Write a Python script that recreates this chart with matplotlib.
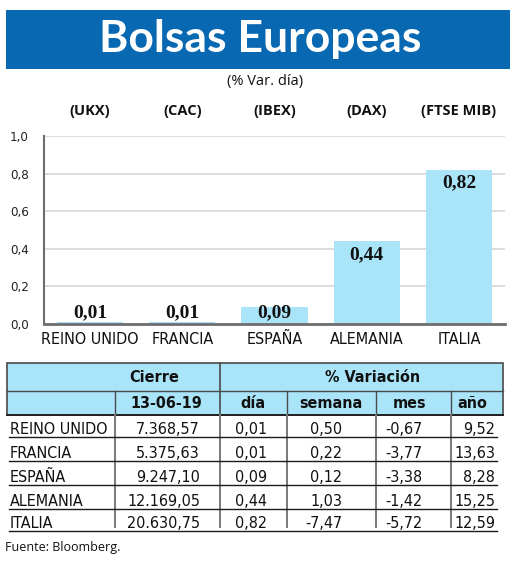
import matplotlib
matplotlib.use("Agg")
import matplotlib.pyplot as plt
from matplotlib import font_manager
from matplotlib.font_manager import FontProperties
from matplotlib.lines import Line2D
from matplotlib.patches import Rectangle
import matplotlib.transforms as mtransforms

# ---------------- data ----------------
countries = ["REINO UNIDO", "FRANCIA", "ESPAÑA", "ALEMANIA", "ITALIA"]
indices = ["(UKX)", "(CAC)", "(IBEX)", "(DAX)", "(FTSE MIB)"]
var_dia = [0.01, 0.01, 0.09, 0.44, 0.82]
yticks = [0.0, 0.2, 0.4, 0.6, 0.8, 1.0]
cierre = ["7.368,57", "5.375,63", "9.247,10", "12.169,05", "20.630,75"]
dia_txt = ["0,01", "0,01", "0,09", "0,44", "0,82"]
semana = ["0,50", "0,22", "0,12", "1,03", "-7,47"]
mes = ["-0,67", "-3,77", "-3,38", "-1,42", "-5,72"]
anio = ["9,52", "13,63", "8,28", "15,25", "12,59"]
fecha = "13-06-19"

# ---------------- fonts ----------------
def _wt(w):
    if isinstance(w, int):
        return w
    return {"regular": 400, "normal": 400, "book": 400, "bold": 700}.get(str(w).lower(), 400)


cond_faces = []
for f in font_manager.fontManager.ttflist:
    nm = f.name.lower()
    st = str(f.stretch).lower()
    if ("condensed" in st and "semi" not in st and "extra" not in st and "ultra" not in st) or \
       "narrow" in nm or ("condensed" in nm and "semi" not in nm and "extra" not in nm):
        if f.style == "normal":
            cond_faces.append(f)


def pick(weight):
    best = None
    for f in cond_faces:
        d = abs(_wt(f.weight) - weight)
        pref = 0 if ("narrow" in f.name.lower() or "sans" in f.name.lower()) else 1
        key = (d, pref)
        if best is None or key < best[0]:
            best = (key, f)
    return best[1] if best else None


f_reg = pick(400)
f_bold = pick(700)
if f_reg is not None:
    COND_R = dict(fontproperties=FontProperties(fname=f_reg.fname))
    CSCALE = 1.0
else:
    COND_R = dict(family="Liberation Sans")
    CSCALE = 0.85
if f_bold is not None and _wt(f_bold.weight) >= 600:
    COND_B = dict(fontproperties=FontProperties(fname=f_bold.fname))
else:
    COND_B = dict(family=COND_R.get("family", "Liberation Sans"), fontweight="bold")
    if "fontproperties" in COND_R:
        COND_B = dict(fontproperties=FontProperties(fname=f_reg.fname, weight="bold"))

SANS = "Open Sans"
TITLEF = "Lato"
SERIF = "Liberation Serif"

BLUE = "#0868B2"
LIGHT = "#A9E4F8"

W, H = 520, 562
fig = plt.figure(figsize=(W / 100, H / 100), dpi=100)


def fx(x):
    return x / W


def fy(y):
    return 1 - y / H


def set_cond(t, size, bold=False):
    props = COND_B if bold else COND_R
    if "fontproperties" in props:
        fp = props["fontproperties"].copy()
        fp.set_size(size * CSCALE)
        t.set_fontproperties(fp)
    else:
        t.set_family(props["family"])
        if props.get("fontweight"):
            t.set_fontweight(props["fontweight"])
        t.set_fontsize(size * CSCALE)
    return t


def ctext(x, y, s, bold=False, size=12, **kw):
    t = fig.text(x, y, s, color="#111111", **kw)
    return set_cond(t, size, bold)


# title box
fig.patches.append(Rectangle((fx(6), fy(69)), fx(504), 59 / H, transform=fig.transFigure,
                             facecolor=BLUE, edgecolor="none"))
fig.text(fx(260), fy(52), "Bolsas Europeas", color="white", fontsize=32, fontweight="bold",
         family=TITLEF, ha="center", va="baseline")
fig.text(fx(265), fy(82), "(% Var. día)", fontsize=10.5, family=SANS, ha="center", va="center",
         color="#111111")

# ---------------- bar chart ----------------
ax = fig.add_axes([fx(44), fy(324), (505 - 44) / W, (324 - 136) / H])
x = list(range(len(countries)))
ax.bar(x, var_dia, width=0.72, color=LIGHT, zorder=3)
ax.set_xlim(-0.5, 4.5)
ax.set_ylim(0, 1.0)
ax.set_yticks(yticks)
ax.set_yticklabels([f"{v:.1f}".replace(".", ",") for v in yticks], color="#222222")
ax.set_xticks(x)
ax.set_xticklabels(countries, color="#111111")
for lab in ax.get_yticklabels():
    set_cond(lab, 9.5)
for lab in ax.get_xticklabels():
    set_cond(lab, 11.5)
ax.tick_params(axis="both", length=0)
ax.tick_params(axis="y", pad=11)
ax.tick_params(axis="x", pad=6)
ax.yaxis.grid(True, color="#d6d6d6", lw=1.2, zorder=0)
ax.set_axisbelow(True)
for s in ("top", "right"):
    ax.spines[s].set_visible(False)
ax.spines["bottom"].set_color("#6e6e6e")
ax.spines["bottom"].set_linewidth(2)
ax.spines["bottom"].set_zorder(4)
ax.spines["left"].set_color("#6e6e6e")
ax.spines["left"].set_linewidth(1.5)

for xi, v in zip(x, var_dia):
    ly = v - 0.07 if v > 0.2 else 0.058
    ax.text(xi, ly, f"{v:.2f}".replace(".", ","), ha="center", va="center", family=SERIF,
            fontweight="bold", fontsize=14, color="#111111", zorder=5)

# index names above
trans = mtransforms.blended_transform_factory(ax.transData, fig.transFigure)
for xi, lab in zip(x, indices):
    fig.text(xi, fy(111), lab, transform=trans, ha="center", va="center", fontsize=10.5,
             fontweight="bold", family=SANS, color="#111111")

# ---------------- table ----------------
L, R = 7, 503
top, r1, r2 = 363, 391, 415
row_bottoms = [437, 461, 485, 509, 531]
vcols = [115, 220, 287, 376, 451]
DARK = "#4a4a4a"


def hline(x0, x1, y, color, lw):
    fig.add_artist(Line2D([fx(x0), fx(x1)], [fy(y), fy(y)], transform=fig.transFigure,
                          color=color, lw=lw))


def vline(x0, y0, y1, color, lw):
    fig.add_artist(Line2D([fx(x0), fx(x0)], [fy(y0), fy(y1)], transform=fig.transFigure,
                          color=color, lw=lw))


fig.patches.append(Rectangle((fx(L), fy(r2)), fx(R - L), (r2 - top) / H, transform=fig.transFigure,
                             facecolor=LIGHT, edgecolor=DARK, lw=1.2))
hline(L, R, r1, DARK, 1.0)
hline(L, R, r2, "#222222", 1.4)
vline(220, top, r2, DARK, 1.2)
for c in (115, 287, 376, 451):
    vline(c, r1, r2, DARK, 1.0)

ctext(fx(154), fy(378), "Cierre", bold=True, size=11.5, ha="center", va="center")
ctext(fx(373), fy(378), "% Variación", bold=True, size=11.5, ha="center", va="center")
hdr2 = [(166, fecha), (253, "día"), (331, "semana"), (410, "mes"), (472, "año")]
for cx, t in hdr2:
    ctext(fx(cx), fy(403), t, bold=True, size=11.5, ha="center", va="center")

for c in vcols:
    vline(c, r2, 527, "#7a7a7a", 1.4)

for i, rb in enumerate(row_bottoms):
    hline(9, 497, rb, "#1a1a1a", 1.0)
    yb = fy(rb - 3)
    ctext(fx(10), yb, countries[i], size=11.5, ha="left", va="baseline")
    ctext(fx(200), yb, cierre[i], size=11.5, ha="right", va="baseline")
    ctext(fx(267), yb, dia_txt[i], size=11.5, ha="right", va="baseline")
    ctext(fx(342), yb, semana[i], size=11.5, ha="right", va="baseline")
    ctext(fx(422), yb, mes[i], size=11.5, ha="right", va="baseline")
    ctext(fx(495), yb, anio[i], size=11.5, ha="right", va="baseline")

fig.text(fx(5), fy(548), "Fuente: Bloomberg.", ha="left", va="center", family=SANS, fontsize=9,
         color="#111111")

fig.savefig("out.png", dpi=100)
